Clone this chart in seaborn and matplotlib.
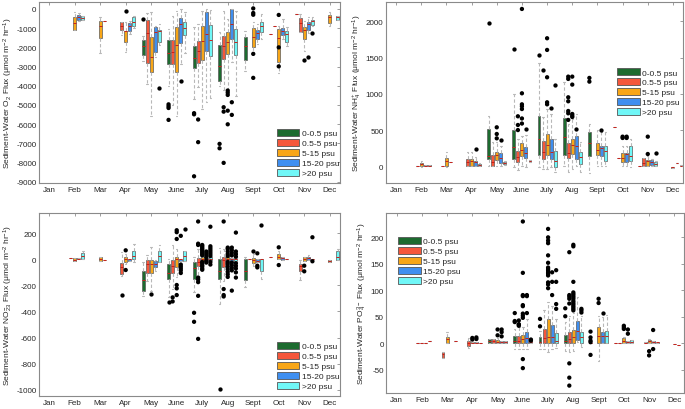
import numpy as np
import pandas as pd
import matplotlib
matplotlib.use("Agg")
import matplotlib.pyplot as plt
import seaborn as sns
from matplotlib.patches import Patch

MONTHS = ["Jan", "Feb", "Mar", "Apr", "May", "June", "July", "Aug", "Sept", "Oct", "Nov", "Dec"]
CLASSES = ["0-0.5 psu", "0.5-5 psu", "5-15 psu", "15-20 psu", ">20 psu"]
COLORS = ["#1d6b2f", "#f5573b", "#f8a617", "#3f8ff0", "#70f7f7"]

# rows: (month, salinity class index, whisker low, q1, median, q3, whisker high)
O2_BOXES = [
    ("Feb", 2, -1100, -1090, -730, -400, -150), ("Feb", 3, -600, -550, -420, -300, -200),
    ("Feb", 4, -560, -550, -460, -380, -350),
    ("Mar", 2, -2300, -1500, -900, -650, -400), ("Mar", 3, -630, -630, -630, -630, -630),
    ("Apr", 1, -1350, -1100, -870, -700, -700), ("Apr", 2, -2250, -1700, -1160, -1130, -700),
    ("Apr", 3, -1300, -1130, -870, -730, -650), ("Apr", 4, -1000, -870, -660, -430, -350),
    ("May", 0, -2700, -2400, -1950, -1600, -1400), ("May", 1, -3900, -2800, -1250, -550, -200),
    ("May", 2, -5600, -3260, -2520, -1480, -140), ("May", 3, -2500, -2260, -1220, -950, -870),
    ("May", 4, -1900, -1740, -1160, -1090, -780),
    ("June", 0, -4030, -2860, -2310, -1600, -1040), ("June", 1, -5030, -2860, -2260, -1610, -350),
    ("June", 2, -5560, -3300, -1900, -950, -90), ("June", 3, -2860, -1790, -780, -470, 0),
    ("June", 4, -2300, -1350, -1000, -690, -170),
    ("July", 0, -4690, -3090, -2570, -1940, -950), ("July", 1, -4080, -2830, -2200, -1650, -780),
    ("July", 2, -5210, -2660, -1680, -870, -90), ("July", 3, -4860, -2170, -1300, -170, 0),
    ("July", 4, -4650, -2430, -1610, -830, -50),
    ("Aug", 0, -4030, -3730, -2950, -1870, -1220), ("Aug", 1, -4200, -2600, -1910, -1390, -90),
    ("Aug", 2, -4170, -2340, -1740, -1220, -520), ("Aug", 3, -2780, -1560, -780, 0, 0),
    ("Aug", 4, -4510, -2400, -1700, -1040, -90),
    ("Sept", 0, -3210, -2640, -1910, -1480, -1130), ("Sept", 2, -2250, -2000, -1480, -1010, -690),
    ("Sept", 3, -1820, -1560, -1270, -1090, -780), ("Sept", 4, -1560, -1220, -870, -660, -260),
    ("Oct", 0, -1300, -1300, -1300, -1300, -1300), ("Oct", 1, -870, -870, -870, -870, -870),
    ("Oct", 2, -3330, -2740, -1510, -1040, -870), ("Oct", 3, -1560, -1350, -1130, -1010, -520),
    ("Oct", 4, -1910, -1740, -1300, -1150, -950),
    ("Nov", 0, -260, -260, -260, -260, -260), ("Nov", 1, -1220, -1180, -730, -470, -260),
    ("Nov", 2, -2170, -1560, -1090, -920, -610), ("Nov", 3, -1270, -1090, -780, -660, -430),
    ("Nov", 4, -870, -820, -640, -560, -430),
    ("Dec", 2, -870, -730, -430, -310, -170), ("Dec", 4, -560, -560, -430, -350, -350),
]
O2_OUTLIERS = [
    ("Apr", 2, [-120]), ("May", 0, [-500]), ("May", 4, [-4110]),
    ("June", 0, [-4970, -5070, -5160, -5780]), ("June", 3, [-3730]),
    ("July", 0, [-5430, -5490, -8720]), ("July", 1, [-5760, -6940]),
    ("Aug", 0, [-7030, -7260]), ("Aug", 1, [-5120, -5350, -8020]),
    ("Aug", 2, [-4250, -4360, -4480, -5300, -6010]), ("Aug", 3, [-4860, -5520]),
    ("Sept", 2, [30, -210, -300, -2340, -3590]),
    ("Oct", 2, [-310, -2000, -2990]),
    ("Nov", 2, [-2660]), ("Nov", 3, [-2480]), ("Nov", 4, [-1250]),
]

NH4_BOXES = [
    ("Feb", 1, 0, 0, 0, 0, 0), ("Feb", 2, -5, 0, 28, 45, 78), ("Feb", 3, 0, 0, 8, 18, 18),
    ("Feb", 4, 0, 0, 8, 15, 15),
    ("Mar", 1, 10, 10, 10, 10, 10), ("Mar", 2, -14, 0, 78, 110, 200), ("Mar", 3, 64, 64, 64, 64, 64),
    ("Apr", 1, 0, 0, 55, 100, 193), ("Apr", 2, 0, 10, 69, 100, 193), ("Apr", 3, 0, 10, 55, 78, 124),
    ("Apr", 4, 5, 10, 23, 37, 45),
    ("May", 0, 0, 100, 147, 515, 700), ("May", 1, 0, 0, 55, 160, 330), ("May", 2, 9, 92, 156, 202, 330),
    ("May", 3, 0, 46, 110, 180, 285), ("May", 4, 25, 37, 50, 60, 70),
    ("June", 0, -14, 100, 260, 500, 1000), ("June", 1, -46, 55, 124, 216, 377),
    ("June", 2, 9, 147, 230, 322, 423), ("June", 3, -14, 115, 189, 267, 432),
    ("June", 4, 55, 55, 69, 83, 83),
    ("July", 0, -14, 156, 377, 700, 1430), ("July", 1, -37, 100, 193, 354, 676),
    ("July", 2, -37, 161, 294, 446, 790), ("July", 3, -14, 100, 193, 377, 722),
    ("July", 4, -83, -14, 78, 216, 377),
    ("Aug", 0, 0, 161, 400, 667, 1159), ("Aug", 1, -83, 110, 184, 322, 584),
    ("Aug", 2, -37, 170, 294, 377, 653), ("Aug", 3, 0, 100, 285, 423, 722),
    ("Aug", 4, -83, 28, 124, 202, 331),
    ("Sept", 0, -92, 147, 322, 469, 584), ("Sept", 2, 0, 152, 230, 322, 501),
    ("Sept", 3, 0, 147, 248, 285, 478), ("Sept", 4, 0, 74, 216, 280, 469),
    ("Oct", 0, 538, 538, 538, 538, 538), ("Oct", 1, 120, 120, 120, 120, 120),
    ("Oct", 2, 0, 55, 120, 180, 285), ("Oct", 3, 0, 60, 170, 189, 285),
    ("Oct", 4, -14, 69, 147, 285, 377),
    ("Nov", 0, 0, 0, 0, 0, 0), ("Nov", 1, 0, 0, 46, 110, 110), ("Nov", 2, 0, 9, 74, 83, 147),
    ("Nov", 3, 0, 18, 55, 83, 100), ("Nov", 4, 0, 9, 32, 55, 70),
    ("Dec", 2, -23, -23, -14, -5, -5), ("Dec", 3, 41, 41, 41, 41, 41), ("Dec", 4, 0, 0, 9, 18, 18),
]
NH4_OUTLIERS = [
    ("Apr", 3, [240]), ("May", 0, [1977]), ("May", 2, [538, 446, 386]), ("May", 3, [368]),
    ("June", 0, [1620]), ("June", 1, [690, 570, 500]),
    ("June", 2, [2170, 1007, 855, 828, 790, 660, 590]), ("June", 3, [520]),
    ("July", 0, [1536]), ("July", 1, [1330]), ("July", 2, [1766, 1605, 1228, 883, 855]),
    ("July", 3, [805]), ("July", 4, [1122]),
    ("Aug", 1, [1237, 1205, 952, 897, 763, 731, 640]), ("Aug", 2, [1237, 1127, 722, 699, 680]),
    ("Aug", 3, [510]),
    ("Sept", 0, [1219, 1168]), ("Sept", 3, [506]),
    ("Oct", 2, [409, 391]), ("Oct", 3, [409, 391]),
    ("Nov", 2, [409, 170]), ("Nov", 4, [189]),
]

NO23_BOXES = [
    ("Feb", 1, 10, 10, 10, 10, 10), ("Feb", 2, -13, -13, -3, 8, 8), ("Feb", 3, 0, 0, 5, 13, 13),
    ("Feb", 4, 0, 0, 28, 46, 67),
    ("Mar", 2, -10, -10, 3, 15, 15), ("Mar", 3, -5, -5, -5, -5, -5),
    ("Apr", 1, -126, -115, -62, -28, 54), ("Apr", 2, -36, -23, 0, 18, 41),
    ("Apr", 3, -10, -10, 0, 3, 3), ("Apr", 4, -23, 0, 28, 62, 118),
    ("May", 0, -285, -241, -156, -92, -23), ("May", 1, -164, -105, -36, -3, 36),
    ("May", 2, -241, -105, -36, -3, 97), ("May", 3, -87, -62, -36, -15, -3),
    ("May", 4, -21, -21, 28, 62, 113),
    ("June", 0, -292, -149, -105, -36, 3), ("June", 1, -228, -108, -49, -3, 113),
    ("June", 2, -138, -62, 3, 18, 80), ("June", 3, -15, -15, 0, 3, 3),
    ("June", 4, -15, -15, 28, 62, 62),
    ("July", 0, -254, -151, -70, -23, 15), ("July", 1, -126, -49, -23, 13, 79),
    ("July", 2, -10, -10, 3, 15, 15), ("July", 3, -8, -8, 0, 8, 8), ("July", 4, -5, -5, 5, 15, 15),
    ("Aug", 0, -344, -151, -87, 3, 85), ("Aug", 1, -164, -62, -3, 15, 80),
    ("Aug", 2, -5, -5, 3, 15, 15), ("Aug", 3, -10, -10, 0, 8, 8), ("Aug", 4, -10, -10, 0, 10, 10),
    ("Sept", 0, -215, -159, -87, 3, 15), ("Sept", 1, 0, 0, 0, 0, 0),
    ("Sept", 2, -49, -28, -5, 10, 41), ("Sept", 3, -23, -23, -10, 3, 3),
    ("Sept", 4, -151, -87, 0, 3, 3),
    ("Oct", 0, 15, 15, 15, 15, 15), ("Oct", 2, 3, 3, 20, 41, 60), ("Oct", 3, -5, -5, 8, 20, 20),
    ("Oct", 4, 0, 0, 3, 5, 5),
    ("Nov", 1, -159, -92, -49, -36, -3), ("Nov", 2, -10, -10, 3, 15, 15),
    ("Nov", 3, -3, -3, 10, 20, 36), ("Nov", 4, 0, 0, 3, 5, 5),
    ("Dec", 2, -23, -23, -15, -8, -8), ("Dec", 4, -3, -3, 15, 62, 80),
]
NO23_OUTLIERS = [
    ("Apr", 1, [-272]), ("Apr", 2, [69, -82]), ("May", 2, [-267]),
    ("June", 0, [-326]), ("June", 1, [-292, -323]), ("June", 2, [223, 208, 156, -197, -223, -274]),
    ("June", 3, [180, -40, -55, -70, -85, -105]), ("June", 4, [233]),
    ("July", 0, [-410, -479]), ("July", 1, [290, 120, 110, -140, -155, -175, -280, -610]),
    ("July", 2, [110, 100, 90, 80, 70, 60, 50, 40, 30, -20, -30, -45, -55, -70, -80]),
    ("July", 3, [60, 45, 30, 15, -10, -25]),
    ("July", 4, [250, 100, 85, 70, 55, 40, 25, -20, -40]),
    ("Aug", 0, [-992]), ("Aug", 1, [290, -228, -274, -285]),
    ("Aug", 2, [90, 80, 60, 40, 25, -20, -35, -55, -75, -95, -115, -135]),
    ("Aug", 3, [90, 70, 50, 30, -25, -45, -65, -85, -240]),
    ("Aug", 4, [205, 60, 40, 20, -30, -50, -70, -100, -140]),
    ("Sept", 2, [67]), ("Sept", 3, [46, -49, -62]), ("Sept", 4, [264]),
    ("Oct", 2, [92, -44]), ("Nov", 2, [-49, -92]), ("Nov", 4, [169, -15]),
]

PO4_BOXES = [
    ("Feb", 1, 0, 0, 0, 0, 0), ("Feb", 2, 0, 0, 0, 0, 0), ("Feb", 3, 0, 0, 0, 0, 0),
    ("Feb", 4, 4, 4, 4, 4, 4),
    ("Mar", 1, -28, -28, -21, -17, -17), ("Mar", 2, 0, 0, 8, 11, 21), ("Mar", 4, 4, 4, 4, 4, 4),
    ("Apr", 1, -9, -6, 0, 4, 9), ("Apr", 2, 0, 0, 1, 2, 3), ("Apr", 3, 0, 0, 1, 2, 3),
    ("Apr", 4, 0, 0, 0, 0, 0),
    ("May", 0, 0, 0, 5, 8, 8), ("May", 1, 0, 0, 4, 8, 8), ("May", 2, 0, 0, 3, 6, 9),
    ("May", 3, 0, 0, 2, 4, 4), ("May", 4, 0, 0, 2, 4, 4),
    ("June", 0, -11, 0, 4, 13, 27), ("June", 1, -11, 0, 5, 13, 30), ("June", 2, -11, 0, 8, 16, 31),
    ("June", 3, -11, 0, 9, 22, 46), ("June", 4, 0, 0, 2, 4, 4),
    ("July", 0, -11, 0, 3, 11, 24), ("July", 1, -11, 0, 9, 26, 62), ("July", 2, -17, 0, 11, 46, 77),
    ("July", 3, -11, 0, 11, 35, 70), ("July", 4, -9, 0, 5, 20, 46),
    ("Aug", 0, -14, 0, 5, 16, 40), ("Aug", 1, -17, 0, 8, 21, 52), ("Aug", 2, -14, 0, 11, 25, 58),
    ("Aug", 3, 2, 7, 24, 42, 87), ("Aug", 4, -8, 0, 11, 21, 52),
    ("Sept", 0, 0, 0, 0, 0, 0), ("Sept", 2, -33, 0, 14, 30, 52), ("Sept", 3, 0, 0, 13, 22, 49),
    ("Sept", 4, 0, 0, 13, 23, 53),
    ("Oct", 0, 0, 0, 0, 0, 0), ("Oct", 1, 0, 0, 0, 0, 0), ("Oct", 2, 0, 0, 4, 9, 12),
    ("Oct", 3, 0, 0, 2, 5, 5), ("Oct", 4, 0, 0, 3, 6, 6),
    ("Nov", 1, 0, 0, 1, 3, 3), ("Nov", 2, 0, 0, 4, 6, 8), ("Nov", 3, 0, 0, 2, 4, 4),
    ("Nov", 4, 1, 1, 2, 3, 3),
    ("Dec", 2, -1, -1, -1, -1, -1), ("Dec", 3, -4, -4, -4, -4, -4),
]
PO4_OUTLIERS = [
    ("Apr", 2, [10, 7]), ("Apr", 3, [11, 8]),
    ("May", 2, [26, 15]), ("May", 3, [26, 21, 13]),
    ("June", 0, [57, 42, 40]), ("June", 1, [43, 36, 35, 33]),
    ("June", 2, [230, 133, 91, 89, 72, 70, 56, 52, 48, -30, -47]), ("June", 3, [91, 89, 57]),
    ("June", 4, [7, 5]),
    ("July", 0, [46, 32]),
    ("July", 2, [216, 200, 194, 189, 166, 152, 143, 140, 137, 134, 131, 128, 115, 111, 104]),
    ("July", 3, [134, 116, 91]), ("July", 4, [138, 116, 74, 65]),
    ("Aug", 0, [66, 51]), ("Aug", 1, [172, 91, 88, 84, 75, -38, -65, -80]),
    ("Aug", 2, [186, 183, 116, 96, 93, 90, 87, 84, 80, 77, 74, 71, 68, 65, 62]),
    ("Aug", 4, [65, 62, 58]),
    ("Sept", 0, [22, 11, 5, 2, -22]), ("Sept", 2, [84, 76]), ("Sept", 3, [57]),
    ("Oct", 2, [33, 30, 27]), ("Oct", 3, [26, 18]),
    ("Nov", 2, [-15, -23]), ("Nov", 3, [25, -11]),
]

sns.set_style("white")
plt.rcParams["font.family"] = ["Liberation Sans", "DejaVu Sans"]
plt.rcParams["mathtext.fontset"] = "custom"
plt.rcParams["mathtext.rm"] = "Liberation Sans"
plt.rcParams["mathtext.it"] = "Liberation Sans:italic"
plt.rcParams["mathtext.bf"] = "Liberation Sans:bold"
plt.rcParams["axes.unicode_minus"] = False


def box_frame(rows):
    recs = []
    for m, c, *stats in rows:
        for v in stats:
            recs.append((m, CLASSES[c], v))
    return pd.DataFrame(recs, columns=["month", "cls", "value"])


def out_frame(rows):
    recs = []
    for m, c, vals in rows:
        for v in vals:
            recs.append((m, CLASSES[c], v))
    return pd.DataFrame(recs, columns=["month", "cls", "value"])


def panel(ax, boxes, outs, ylabel, ylim, yticks, loc, anchor):
    sns.boxplot(data=box_frame(boxes), x="month", y="value", hue="cls",
                order=MONTHS, hue_order=CLASSES, palette=COLORS, saturation=1,
                whis=(0, 100), showfliers=False, width=0.8, gap=0.28,
                linewidth=0.5, linecolor="#5a5a5a", legend=False, ax=ax,
                medianprops=dict(color="#c8201a", linewidth=0.7),
                whiskerprops=dict(color="#b8b8b8", linestyle=(0, (3, 2)), linewidth=0.8),
                capprops=dict(color="#b8b8b8", linewidth=0.8))
    sns.stripplot(data=out_frame(outs), x="month", y="value", hue="cls",
                  order=MONTHS, hue_order=CLASSES, palette=["black"] * 5,
                  dodge=True, jitter=False, size=3.1, linewidth=0, legend=False, ax=ax)
    ax.set_xlim(-0.4, 11.4)
    ax.set_ylim(*ylim)
    ax.set_yticks(yticks)
    ax.set_yticklabels([str(int(t)) for t in yticks])
    ax.set_xlabel("")
    ax.set_ylabel(ylabel, fontsize=6, labelpad=1)
    ax.tick_params(direction="in", length=2.5, width=0.5, color="#777777",
                   top=True, right=True, labelsize=5.8, pad=1.8)
    for s in ax.spines.values():
        s.set_color("#8a8a8a")
        s.set_linewidth(0.8)
    handles = [Patch(facecolor=c, edgecolor="#555555", linewidth=0.6) for c in COLORS]
    ax.legend(handles, CLASSES, loc=loc, bbox_to_anchor=anchor, frameon=False,
              fontsize=6, handlelength=2.7, handleheight=0.95, labelspacing=0.18,
              handletextpad=0.3, borderpad=0, borderaxespad=0)


fig = plt.figure(figsize=(6.85, 4.10), dpi=100)
ax1 = fig.add_axes([0.0569, 0.5512, 0.4394, 0.4422])
ax2 = fig.add_axes([0.5635, 0.5512, 0.4336, 0.4422])
ax3 = fig.add_axes([0.0569, 0.0317, 0.4394, 0.4463])
ax4 = fig.add_axes([0.5642, 0.0390, 0.4350, 0.4390])

panel(ax1, O2_BOXES, O2_OUTLIERS,
      "Sediment-Water O$_2$ Flux (μmol m$^{-2}$ hr$^{-1}$)",
      (-9070, 380), np.arange(-9000, 1, 1000), "lower left", (0.79, 0.033))
panel(ax2, NH4_BOXES, NH4_OUTLIERS,
      "Sediment-Water NH$_4^{+}$ Flux (μmol m$^{-2}$ hr$^{-1}$)",
      (-230, 2270), np.arange(0, 2001, 500), "upper left", (0.778, 0.634))
panel(ax3, NO23_BOXES, NO23_OUTLIERS,
      "Sediment-Water NO$_{23}^{-}$ Flux (μmol m$^{-2}$ hr$^{-1}$)",
      (-1048, 355), np.arange(-1000, 201, 200), "lower left", (0.79, 0.033))
panel(ax4, PO4_BOXES, PO4_OUTLIERS,
      "Sediment-Water PO$_4^{3-}$ Flux (μmol m$^{-2}$ hr$^{-1}$)",
      (-94, 246), np.arange(-50, 201, 50), "upper left", (0.039, 0.867))

fig.savefig("out.png", dpi=100)
